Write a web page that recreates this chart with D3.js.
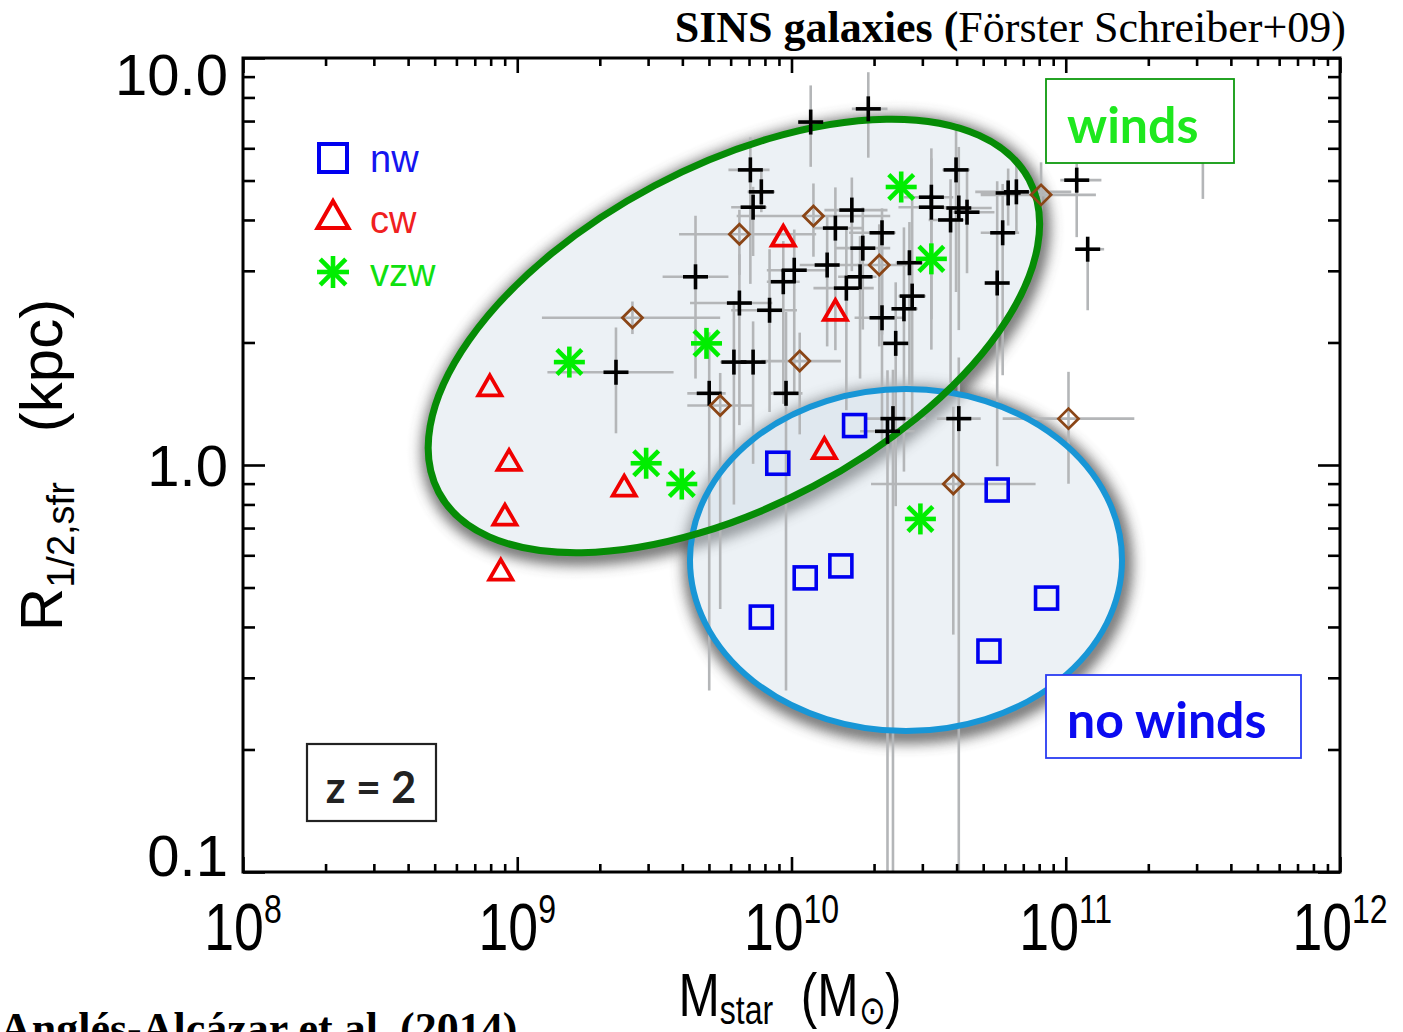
<!DOCTYPE html>
<html>
<head>
<meta charset="utf-8">
<script src="https://cdn.jsdelivr.net/npm/d3@7"></script>
<style>
  body { margin: 0; background: #fff; }
  svg { display: block; }
</style>
</head>
<body>
<svg id="chart" width="1403" height="1032"></svg>
<script>
// ---- Data: log10(M_star / Msun) and R_1/2,sfr in kpc ----

// no-wind model (nw)
const nwLogM = [10.23, 9.95, 10.75, 10.05, 10.18, 9.89, 10.93, 10.72];
const nwR    = [1.25, 1.01, 0.868, 0.528, 0.565, 0.423, 0.471, 0.349];

// constant wind model (cw)
const cwLogM = [9.97, 10.16, 8.90, 8.97, 10.12, 9.39, 8.955, 8.94];
const cwR    = [3.59, 2.36, 1.54, 1.01, 1.08, 0.873, 0.741, 0.543];

// momentum-driven winds (vzw)
const vzwLogM = [10.40, 10.51, 9.69, 9.19, 9.47, 9.60, 10.47];
const vzwR    = [4.82, 3.21, 1.99, 1.79, 1.01, 0.898, 0.737];

// SINS galaxies: crosses, with errors in dex [mass low, mass high, radius low, radius high]
const sinsLogM = [10.07, 10.28, 9.85, 9.89, 9.86, 10.22, 10.16, 10.33, 10.26, 10.60,
                  10.51, 10.51, 10.61, 10.64, 10.58, 10.82, 10.77, 11.04, 11.08, 10.75,
                  10.43, 10.44, 10.41, 10.33, 10.38, 10.13, 10.01, 9.97, 10.25, 10.20,
                  9.65, 9.81, 9.92, 9.36, 9.79, 9.86, 9.70, 9.98, 10.37, 10.35,
                  10.61, 11.50, 10.79];
const sinsR    = [6.96, 7.50, 5.31, 4.69, 4.30, 4.23, 3.82, 3.72, 3.41, 5.31,
                  4.55, 4.30, 4.28, 4.18, 4.00, 4.69, 3.72, 5.01, 3.39, 2.80,
                  3.14, 2.60, 2.42, 2.30, 1.99, 3.10, 3.01, 2.82, 2.90, 2.72,
                  2.90, 2.50, 2.40, 1.69, 1.79, 1.79, 1.50, 1.50, 1.30, 1.21,
                  1.30, 5.94, 4.66];
const sinsErrMLo = [0.04, 0.06, 0.08, 0.05, 0.08, 0.10, 0.08, 0.12, 0.10, 0.05,
                    0.10, 0.12, 0.06, 0.05, 0.08, 0.15, 0.08, 0.06, 0.03, 0.03,
                    0.05, 0.05, 0.03, 0.10, 0.05, 0.10, 0.10, 0.06, 0.08, 0.12,
                    0.12, 0.18, 0.14, 0.25, 0.05, 0.05, 0.08, 0.06, 0.10, 0.10,
                    0.08, 0.05, 0.10];
const sinsErrMHi = [0.04, 0.07, 0.07, 0.05, 0.05, 0.13, 0.10, 0.05, 0.10, 0.05,
                    0.08, 0.08, 0.12, 0.10, 0.05, 0.20, 0.06, 0.09, 0.06, 0.03,
                    0.05, 0.05, 0.05, 0.08, 0.05, 0.12, 0.12, 0.06, 0.06, 0.10,
                    0.12, 0.12, 0.10, 0.21, 0.05, 0.05, 0.06, 0.06, 0.12, 0.10,
                    0.08, 0.05, 0.06];
const sinsErrRLo = [0.11, 0.12, 0.28, 0.05, 0.12, 0.15, 0.30, 0.25, 0.20, 0.30,
                    0.30, 0.35, 0.30, 0.15, 0.40, 0.10, 0.35, 0.14, 0.15, 0.45,
                    0.30, 0.30, 0.40, 0.30, 0.40, 0.20, 0.30, 0.30, 0.25, 0.30,
                    0.25, 0.30, 0.25, 0.15, 0.35, 0.25, 0.73, 0.73, 2.00, 2.00,
                    2.00, 0.12, 0.08];
const sinsErrRHi = [0.09, 0.09, 0.08, 0.05, 0.05, 0.08, 0.10, 0.06, 0.10, 0.12,
                    0.12, 0.12, 0.15, 0.10, 0.10, 0.08, 0.12, 0.04, 0.03, 0.25,
                    0.10, 0.25, 0.20, 0.20, 0.15, 0.12, 0.10, 0.10, 0.10, 0.15,
                    0.15, 0.12, 0.15, 0.11, 0.15, 0.10, 0.15, 0.20, 0.12, 0.15,
                    0.15, 0.10, 0.06];

// SINS galaxies: diamonds
const sinsDLogM = [9.42, 9.81, 10.08, 10.32, 10.03, 9.74, 10.91, 10.59, 11.01];
const sinsDR    = [2.30, 3.69, 4.09, 3.10, 1.80, 1.40, 4.61, 0.898, 1.30];
const sinsDErrMLo = [0.33, 0.22, 0.28, 0.08, 0.14, 0.12, 0.22, 0.30, 0.24];
const sinsDErrMHi = [0.32, 0.28, 0.28, 0.10, 0.15, 0.12, 0.20, 0.30, 0.24];
const sinsDErrRLo = [0.04, 0.10, 0.10, 0.20, 0.18, 0.50, 0.08, 0.37, 0.16];
const sinsDErrRHi = [0.04, 0.06, 0.08, 0.10, 0.07, 0.08, 0.08, 0.19, 0.115];

// Axis ticks
const xMajor = [1e8, 1e9, 1e10, 1e11, 1e12];
const xExponents = ["8", "9", "10", "11", "12"];
const yMajor = [0.1, 1, 10];
const yLabels = ["0.1", "1.0", "10.0"];
const legendNames = ["nw", "cw", "vzw"];

// ---- Layout ----
const L = 243, R = 1340, T = 58, B = 872;
const svg = d3.select("#chart");
const x = d3.scaleLog().domain([1e8, 1e12]).range([L, R]);
const y = d3.scaleLog().domain([0.1, 10]).range([B, T]);
const px = m => x(Math.pow(10, m));

const COL = { nw: "#0000f0", cw: "#f00000", vzw: "#00ee00", dia: "#8a4516", err: "#b4b6b8" };

const defs = svg.append("defs");
defs.append("clipPath").attr("id", "plotClip")
  .append("rect").attr("x", L).attr("y", T).attr("width", R - L).attr("height", B - T);

const shadow = defs.append("filter").attr("id", "halo")
  .attr("x", "-20%").attr("y", "-20%").attr("width", "140%").attr("height", "140%");
shadow.append("feGaussianBlur").attr("stdDeviation", 7);

// ---- Outlined regions: galaxies with winds / without winds ----
const regions = [
  { name: "nowind", c: [10.4175, 0.584], rx: 216, ry: 171, rot: 0, stroke: "#1896d6", sw: 6 },
  { name: "wind", c: [9.79, 2.075], rx: 334, ry: 170, rot: -27.9, stroke: "#068c06", sw: 7 }
];
const ellAttrs = (sel, r) => sel
  .attr("cx", 0).attr("cy", 0).attr("rx", r.rx).attr("ry", r.ry)
  .attr("transform", `translate(${px(r.c[0])},${y(r.c[1])}) rotate(${r.rot})`);

regions.forEach(r => {
  const mask = defs.append("mask").attr("id", "out-" + r.name);
  mask.append("rect").attr("x", 0).attr("y", 0).attr("width", 1403).attr("height", 1032).attr("fill", "#fff");
  mask.append("ellipse").call(ellAttrs, r).attr("fill", "#000");
});

const shadowG = svg.append("g");
regions.forEach(r => {
  shadowG.append("g").attr("mask", `url(#out-${r.name})`)
    .append("ellipse").call(ellAttrs, r)
    .attr("fill", "none").attr("stroke", "#4a4a4a").attr("stroke-width", 16).attr("opacity", 0.85)
    .attr("filter", "url(#halo)")
    .attr("transform", `translate(${px(r.c[0]) + 2},${y(r.c[1]) + 4}) rotate(${r.rot})`);
});
const fillG = svg.append("g");
regions.forEach(r => {
  fillG.append("ellipse").call(ellAttrs, r).attr("fill", "#cdd9e5").attr("fill-opacity", 0.38);
});

// ---- Error bars ----
const errG = svg.append("g").attr("clip-path", "url(#plotClip)")
  .attr("stroke", COL.err).attr("stroke-width", 2.6);
function errorBars(logM, rr, mLo, mHi, rLo, rHi) {
  logM.forEach((m, i) => {
    const cx = px(m), cy = y(rr[i]);
    errG.append("line").attr("x1", px(m - mLo[i])).attr("x2", px(m + mHi[i])).attr("y1", cy).attr("y2", cy);
    errG.append("line").attr("x1", cx).attr("x2", cx)
      .attr("y1", y(rr[i] * Math.pow(10, -rLo[i]))).attr("y2", y(rr[i] * Math.pow(10, rHi[i])));
  });
}
errorBars(sinsLogM, sinsR, sinsErrMLo, sinsErrMHi, sinsErrRLo, sinsErrRHi);
errorBars(sinsDLogM, sinsDR, sinsDErrMLo, sinsDErrMHi, sinsDErrRLo, sinsDErrRHi);

// ---- Region outlines ----
regions.forEach(r => {
  svg.append("ellipse").call(ellAttrs, r).attr("fill", "none")
    .attr("stroke", r.stroke).attr("stroke-width", r.sw);
});

// ---- Marker shapes ----
const triPath = s => { const h = s * Math.sqrt(3) / 2; return `M0,${-h * 2 / 3}L${s / 2},${h / 3}L${-s / 2},${h / 3}Z`; };
function square(g, s, col, w) {
  g.append("rect").attr("x", -s / 2).attr("y", -s / 2).attr("width", s).attr("height", s)
    .attr("fill", "none").attr("stroke", col).attr("stroke-width", w);
}
function triangle(g, s, col, w) {
  g.append("path").attr("d", triPath(s)).attr("fill", "none").attr("stroke", col)
    .attr("stroke-width", w).attr("stroke-linejoin", "miter");
}
function asterisk(g, s, col, w) {
  const a = s / 2, d = a * 0.8;
  [[-a, 0, a, 0], [0, -a, 0, a], [-d, -d, d, d], [-d, d, d, -d]].forEach(c =>
    g.append("line").attr("x1", c[0]).attr("y1", c[1]).attr("x2", c[2]).attr("y2", c[3])
      .attr("stroke", col).attr("stroke-width", w));
}
function diamond(g, s, col, w) {
  const a = s / 2;
  g.append("path").attr("d", `M0,${-a}L${a},0L0,${a}L${-a},0Z`).attr("fill", "none")
    .attr("stroke", col).attr("stroke-width", w);
}
function cross(g, s, col, w) {
  const a = s / 2;
  g.append("line").attr("x1", -a).attr("x2", a).attr("y1", 0).attr("y2", 0).attr("stroke", col).attr("stroke-width", w);
  g.append("line").attr("x1", 0).attr("x2", 0).attr("y1", -a).attr("y2", a).attr("stroke", col).attr("stroke-width", w);
}
function plotMarkers(logM, rr, draw) {
  const g = svg.append("g");
  logM.forEach((m, i) => draw(g.append("g").attr("transform", `translate(${px(m)},${y(rr[i])})`)));
}

plotMarkers(sinsLogM, sinsR, g => cross(g, 25, "#000", 3.6));
plotMarkers(sinsDLogM, sinsDR, g => diamond(g, 20, COL.dia, 2.8));
plotMarkers(nwLogM, nwR, g => square(g, 22, COL.nw, 3.6));
plotMarkers(cwLogM, cwR, g => triangle(g, 23, COL.cw, 3.8));
plotMarkers(vzwLogM, vzwR, g => asterisk(g, 31, COL.vzw, 4.6));

// ---- Axes: inward major and minor ticks on all four sides ----
const xMinor = d3.range(8, 12).flatMap(d => d3.range(2, 10).map(k => k * Math.pow(10, d)));
const yMinor = [0.2, 0.3, 0.4, 0.5, 0.6, 0.7, 0.8, 0.9, 2, 3, 4, 5, 6, 7, 8, 9];
const axG = svg.append("g");
function addAxis(axisFn, scale, vals, size, tr) {
  const g = axG.append("g").attr("transform", tr)
    .call(axisFn(scale).tickValues(vals).tickSize(size).tickFormat(""));
  g.select(".domain").remove();
  g.selectAll(".tick line").attr("stroke", "#000").attr("stroke-width", 2.6);
}
addAxis(d3.axisBottom, x, xMajor, -15, `translate(0,${B})`);
addAxis(d3.axisBottom, x, xMinor, -8, `translate(0,${B})`);
addAxis(d3.axisTop, x, xMajor, -15, `translate(0,${T})`);
addAxis(d3.axisTop, x, xMinor, -8, `translate(0,${T})`);
addAxis(d3.axisLeft, y, yMajor, -22, `translate(${L},0)`);
addAxis(d3.axisLeft, y, yMinor, -12, `translate(${L},0)`);
addAxis(d3.axisRight, y, yMajor, -22, `translate(${R},0)`);
addAxis(d3.axisRight, y, yMinor, -12, `translate(${R},0)`);
axG.append("rect").attr("x", L).attr("y", T).attr("width", R - L).attr("height", B - T)
  .attr("fill", "none").attr("stroke", "#000").attr("stroke-width", 3);

// y tick labels
yMajor.forEach((v, i) => {
  svg.append("text").attr("x", 228).attr("y", Math.min(Math.max(y(v), 74), 855))
    .attr("dy", "0.36em").attr("text-anchor", "end")
    .attr("font-family", "Liberation Sans, Arial, sans-serif").attr("font-size", 58)
    .text(yLabels[i]);
});
// x tick labels (condensed Helvetica look)
xMajor.forEach((v, i) => {
  const t = svg.append("text")
    .attr("transform", `translate(${x(v)},950) scale(0.8,1)`)
    .attr("text-anchor", "middle")
    .attr("font-family", "Liberation Sans, Arial, sans-serif").attr("font-size", 67);
  t.append("tspan").text("10");
  t.append("tspan").attr("font-size", 40).attr("dy", -27).text(xExponents[i]);
});

// axis titles
const xt = svg.append("text")
  .attr("transform", "translate(790,1016) scale(0.8,1)")
  .attr("text-anchor", "middle")
  .attr("font-family", "Liberation Sans, Arial, sans-serif").attr("font-size", 62);
xt.append("tspan").text("M");
xt.append("tspan").attr("font-size", 40).attr("dy", 8).text("star");
xt.append("tspan").attr("dy", -8).attr("xml:space", "preserve").text("  (M");
xt.append("tspan").attr("font-size", 40).attr("dy", 8).text("\u2299");
xt.append("tspan").attr("dy", -8).text(")");

const yt = svg.append("text")
  .attr("transform", "translate(62,465) rotate(-90)")
  .attr("text-anchor", "middle")
  .attr("font-family", "Liberation Sans, Arial, sans-serif").attr("font-size", 60);
yt.append("tspan").text("R");
yt.append("tspan").attr("font-size", 38).attr("dy", 12).text("1/2,sfr");
yt.append("tspan").attr("dy", -12).attr("xml:space", "preserve").text("   (kpc)");

// header and credit
const hdr = svg.append("text").attr("x", 1346).attr("y", 42).attr("text-anchor", "end")
  .attr("font-family", "Liberation Serif, Times New Roman, serif").attr("font-size", 44);
hdr.append("tspan").attr("font-weight", "bold").text("SINS galaxies (");
hdr.append("tspan").text("Förster Schreiber+09)");
svg.append("text").attr("x", 0).attr("y", 1043)
  .attr("font-family", "Liberation Serif, Times New Roman, serif").attr("font-size", 44)
  .attr("font-weight", "bold").text("Anglés-Alcázar et al. (2014)");

// ---- Legend ----
const legendDraw = [
  g => square(g, 28, COL.nw, 4),
  g => triangle(g, 31, COL.cw, 4),
  g => asterisk(g, 32, COL.vzw, 4.6)
];
const legendY = [158, 219, 272];
const legendTextCol = ["#1515f0", "#f02020", "#10e010"];
legendNames.forEach((n, i) => {
  legendDraw[i](svg.append("g").attr("transform", `translate(333,${legendY[i]})`));
  svg.append("text").attr("x", 370).attr("y", legendY[i] + 14)
    .attr("font-family", "Liberation Sans, Arial, sans-serif").attr("font-size", 38)
    .attr("fill", legendTextCol[i]).text(n);
});

// ---- Annotation boxes ----
function labelBox(bx, by, bw, bh, stroke, sw, tx, ty, txt, col, size, anchor) {
  svg.append("rect").attr("x", bx).attr("y", by).attr("width", bw).attr("height", bh)
    .attr("fill", "#fff").attr("stroke", stroke).attr("stroke-width", sw);
  svg.append("text").attr("x", tx).attr("y", ty).attr("text-anchor", anchor)
    .attr("font-family", "Lato, Open Sans, sans-serif").attr("font-weight", "bold")
    .attr("font-size", size).attr("fill", col).attr("xml:space", "preserve").text(txt);
}
labelBox(1046, 79, 188, 84, "#0e9a0e", 1.8, 1067, 143, "winds", "#1ee81e", 50, "start");
labelBox(1046, 675, 255, 83, "#2a3cf2", 1.8, 1067, 738, "no winds", "#0a0af0", 50, "start");
labelBox(307, 744, 129, 77, "#222", 2.2, 371, 803, "z = 2", "#222", 43, "middle");
</script>
</body>
</html>
